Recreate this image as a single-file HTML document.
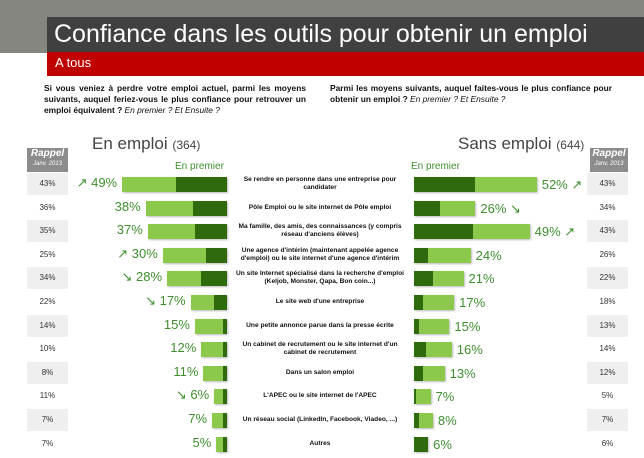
<!DOCTYPE html>
<html><head><meta charset="utf-8"><style>
body{margin:0;width:644px;height:458px;overflow:hidden;background:#fff;font-family:"Liberation Sans",sans-serif;position:relative}
.a{position:absolute}
.lbl{position:absolute;width:170px;left:235px;text-align:center;font-size:6.6px;font-weight:bold;line-height:8px;color:#111}
.pct{position:absolute;font-size:13px;color:#3f8f2f;line-height:14px}
.rp{position:absolute;font-size:8px;color:#333;text-align:center;line-height:22px}
</style></head><body>
<div class="a" style="left:0;top:0;width:644px;height:17px;background:#868681"></div>
<div class="a" style="left:0;top:0;width:47px;height:53px;background:#868681"></div>
<div class="a" style="left:47px;top:17px;width:597px;height:35px;background:#404040;color:#fff;font-size:25px;line-height:35px;padding-left:7px;box-sizing:border-box">Confiance dans les outils pour obtenir un emploi</div>
<div class="a" style="left:47px;top:52px;width:597px;height:24px;background:#c00000;color:#fff;font-size:13px;line-height:22px;padding-left:8px;box-sizing:border-box">A tous</div>
<div class="a" style="left:44px;top:83px;width:262px;font-size:8.4px;font-weight:bold;line-height:11px;text-align:justify;color:#111">Si vous veniez à perdre votre emploi actuel, parmi les moyens suivants, auquel feriez-vous le plus confiance pour retrouver un emploi équivalent ? <i style="font-weight:normal">En premier ? Et Ensuite ?</i></div>
<div class="a" style="left:330px;top:83px;width:282px;font-size:8.4px;font-weight:bold;line-height:11px;text-align:justify;color:#111">Parmi les moyens suivants, auquel faites-vous le plus confiance pour obtenir un emploi ? <i style="font-weight:normal">En premier ? Et Ensuite ?</i></div>
<div class="a" style="left:92px;top:134px;font-size:17px;color:#444">En emploi <span style="font-size:12px">(364)</span></div>
<div class="a" style="left:458px;top:134px;font-size:17px;color:#444">Sans emploi <span style="font-size:12px">(644)</span></div>
<div class="a" style="left:175px;top:161px;font-size:10px;color:#3f8f2f">En premier</div>
<div class="a" style="left:411px;top:161px;font-size:10px;color:#3f8f2f">En premier</div>
<div class="a" style="left:27px;top:148px;width:41px;height:24px;background:#8c8c8c;color:#fff;text-align:center"><div style="font-size:10px;font-weight:bold;font-style:italic;line-height:12px">Rappel</div><div style="font-size:6px;font-style:italic;line-height:8px">Janv. 2013</div></div>
<div class="a" style="left:590px;top:148px;width:38px;height:24px;background:#8c8c8c;color:#fff;text-align:center"><div style="font-size:10px;font-weight:bold;font-style:italic;line-height:12px">Rappel</div><div style="font-size:6px;font-style:italic;line-height:8px">Janv. 2013</div></div>
<div id="chart"></div>
<script>
const categories=["Se  rendre en personne dans une entreprise pour candidater","Pôle Emploi ou le site internet de Pôle emploi","Ma famille, des amis, des connaissances (y compris réseau d'anciens élèves)","Une agence d'intérim (maintenant appelée agence d'emploi) ou le site internet d'une agence d'intérim","Un site Internet spécialisé dans la recherche d'emploi (Keljob, Monster, Qapa, Bon coin...)","Le site web d'une entreprise","Une petite annonce parue dans la presse écrite","Un cabinet de recrutement ou le site internet d'un cabinet de recrutement","Dans un salon emploi","L'APEC ou le site internet de l'APEC","Un réseau social (LinkedIn, Facebook, Viadeo, ...)","Autres"];
const leftTotal=[49,38,37,30,28,17,15,12,11,6,7,5];
const leftFirst=[24,16,15,10,12,6,2,2,2,2,2,2];
const rightTotal=[52,26,49,24,21,17,15,16,13,7,8,6];
const rightFirst=[26,11,25,6,8,4,2,5,4,1,2,6];
const leftRappel=[43,36,35,25,34,22,14,10,8,11,7,7];
const rightRappel=[43,34,43,26,22,18,13,14,12,5,7,6];
const leftArrow=["up","","","up","down","down","","","","down","",""];
const rightArrow=["up","down","up","","","","","","","","",""];
const c=document.getElementById('chart');
const rowY=i=>184+i*23.6;
const lx=v=>v*2.14, rx=v=>v*2.36;
function mk(cls,name,css,txt){const d=document.createElement('div');d.className=cls;d.style.cssText=css;if(txt!==undefined)d.innerHTML=txt;


c.appendChild(d);return d;}
categories.forEach((cat,i)=>{
 const y=rowY(i);
 const bg=i%2===0?'background:#efefef;':'';
 mk('rp','left-rappel-'+i,`left:27px;top:${y-11}px;width:41px;height:22px;${bg}`,leftRappel[i]+'%');
 mk('rp','right-rappel-'+i,`left:587px;top:${y-11}px;width:41px;height:22px;${bg}`,rightRappel[i]+'%');
 mk('lbl','category-label-'+i,`top:${y-8}px;height:16px;display:flex;align-items:center;justify-content:center`,'<span>'+cat+'</span>');
 const lw=lx(leftTotal[i]),lf=lx(leftFirst[i]);
 mk('a','left-bar-total-'+i,`left:${227-lw}px;top:${y-7}px;width:${lw}px;height:15px;background:#8cc84b;box-shadow:1px 1px 2px #bbb`);
 mk('a','left-bar-first-'+i,`left:${227-lf}px;top:${y-7}px;width:${lf}px;height:15px;background:#2f6a0e`);
 const la=leftArrow[i]==='up'?'↗ ':leftArrow[i]==='down'?'↘ ':'';
 mk('pct','left-value-'+i,`left:${227-lw-80}px;width:75px;text-align:right;top:${y-8}px`,la+leftTotal[i]+'%');
 const rw=rx(rightTotal[i]),rf=rx(rightFirst[i]);
 mk('a','right-bar-total-'+i,`left:414px;top:${y-7}px;width:${rw}px;height:15px;background:#8cc84b;box-shadow:1px 1px 2px #bbb`);
 mk('a','right-bar-first-'+i,`left:414px;top:${y-7}px;width:${rf}px;height:15px;background:#2f6a0e`);
 const ra=rightArrow[i]==='up'?' ↗':rightArrow[i]==='down'?' ↘':'';
 mk('pct','right-value-'+i,`left:${414+rw+5}px;top:${y-6}px`,rightTotal[i]+'%'+ra);
});
</script>
</body></html>
